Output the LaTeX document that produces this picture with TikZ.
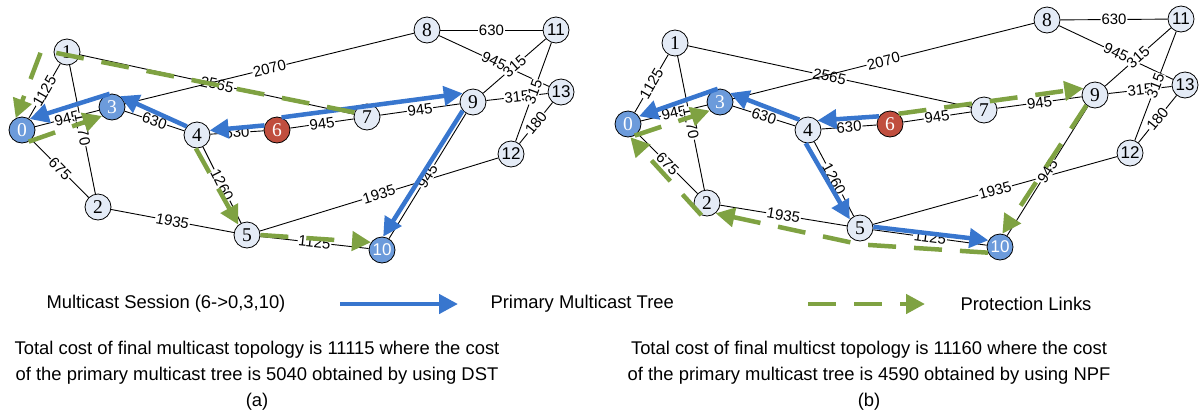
\documentclass[tikz,border=0pt]{standalone}
\usepackage{fontspec}
\setmainfont{Liberation Sans}
\newfontfamily\numserif{Liberation Serif}
\usetikzlibrary{arrows.meta,calc}

\definecolor{treeblue}{RGB}{56,118,206}
\definecolor{protgreen}{RGB}{127,162,66}
\definecolor{nodelight}{RGB}{228,235,246}
\definecolor{nodeblue}{RGB}{108,155,219}
\definecolor{nodered}{RGB}{192,78,62}

\pgfdeclarelayer{background}
\pgfsetlayers{background,main}

\begin{document}
\begin{tikzpicture}
[
	x=1pt, y=-1pt,
	nd/.style={circle,draw,line width=0.8pt,fill=nodelight,inner sep=0pt,minimum size=26pt,font=\fontsize{19.5}{19.5}\numserif},
	ndsans/.style={nd,font=\fontsize{17}{17}\selectfont},
	member/.style={fill=nodeblue,text=white},
	source/.style={fill=nodered,text=white},
	link/.style={line width=0.9pt},
	cost/.style={sloped,fill=white,inner sep=0.8pt,font=\fontsize{15}{15}\selectfont},
	tree/.style={treeblue,line width=4.5pt,-{Triangle[length=19pt,width=19pt]}},
	prot/.style={protgreen,line width=4.5pt,dash pattern=on 28pt off 18pt,-{Triangle[length=19pt,width=19pt]}},
	legtext/.style={font=\fontsize{18.4}{22}\selectfont},
	caption/.style={align=center,font=\fontsize{18.4}{26}\selectfont}
]
	\useasboundingbox (0,0) rectangle (1204,416);

	% network (a)
	\node[nd,member] (L0) at (22,130) {0};
	\node[nd] (L1) at (67,52) {1};
	\node[nd] (L2) at (98,207) {2};
	\node[nd,member] (L3) at (112,107) {3};
	\node[nd] (L4) at (197,135) {4};
	\node[nd] (L5) at (247,235) {5};
	\node[nd,source] (L6) at (277,130) {6};
	\node[nd] (L7) at (367,117) {7};
	\node[nd] (L8) at (427,30) {8};
	\node[nd] (L9) at (473,102) {9};
	\node[ndsans,member] (L10) at (382,250) {10};
	\node[ndsans] (L11) at (556,30) {11};
	\node[ndsans] (L12) at (511,154) {12};
	\node[ndsans] (L13) at (561,92) {13};

	% network (b)
	\node[nd,member] (R0) at (628,124) {0};
	\node[nd] (R1) at (675,43) {1};
	\node[nd] (R2) at (707,203) {2};
	\node[nd,member] (R3) at (720,102) {3};
	\node[nd] (R4) at (808,130) {4};
	\node[nd] (R5) at (860,228) {5};
	\node[nd,source] (R6) at (890,124) {6};
	\node[nd] (R7) at (984,110) {7};
	\node[nd] (R8) at (1047,20) {8};
	\node[nd] (R9) at (1095,95) {9};
	\node[ndsans,member] (R10) at (1000,247) {10};
	\node[ndsans] (R11) at (1181,19) {11};
	\node[ndsans] (R12) at (1130,153) {12};
	\node[ndsans] (R13) at (1185,85) {13};

	% links with costs
	\begin{pgfonlayer}{background}
	\foreach \g in {L,R} {
		\foreach \a/\b/\c in {0/1/1125, 0/2/675, 0/3/945, 1/2/1170, 1/7/2565,
			3/8/2070, 3/4/630, 4/6/630, 4/5/1260, 6/7/945, 7/9/945, 2/5/1935,
			5/10/1125, 5/12/1935, 9/10/945, 8/11/630, 8/13/945, 9/11/315,
			9/13/315, 11/12/315, 12/13/180} {
			\draw[link] (\g\a) -- node[cost] {\c} (\g\b);
		}
	}
	\end{pgfonlayer}

	% (a) DST tree and protection
	\draw[tree] (L6.160) -- (L4.20);
	\draw[tree] (L4.140) -- (L3.54);
	\draw[tree] (L3.100) -- (L0.55);
	\draw[tree] (L6.70) -- (L9.140);
	\draw[tree] (L9.220) -- (L10.85);
	\draw[prot] (L7.160) -- ($(L1.west)+(-12,-2)$) -- (L0.118);
	\draw[prot] (L0.300) -- (L3.222);
	\draw[prot] (L4.265) -- (L5.130);
	\draw[prot] (L5.0) -- (L10.145);

	% (b) NPF tree and protection
	\draw[tree] (R6.145) -- (R4.45);
	\draw[tree] (R4.130) -- (R3.42);
	\draw[tree] (R3.100) -- (R0.35);
	\draw[tree] (R4.260) -- (R5.140);
	\draw[tree] (R5.5) -- (R10.150);
	\draw[prot] (R6.50) -- (R9.150);
	\draw[prot] (R9.230) -- (R10.80);
	\draw[prot] (R10.205) -- ($(R5.south)+(0,3)$) -- (R2.310);
	\draw[prot] (R2.245) -- (R0.280);
	\draw[prot] (R0.300) -- (R3.220);

	% legend
	\node[legtext] (sess) at (166,304) {Multicast Session (6->0,3,10)};
	\coordinate (treeA) at (340,304);
	\coordinate (treeB) at (458,304);
	\draw[tree] (treeA) -- (treeB);
	\node[legtext,anchor=west] (treelbl) at (487,304) {Primary Multicast Tree};
	\coordinate (protA) at (808,304);
	\coordinate (protB) at (925,304);
	\draw[prot] (protA) -- (protB);
	\node[legtext,anchor=west] (protlbl) at (957,304) {Protection Links};

	% captions
	\node[caption] (capa) at (257,376) {Total cost of final multicast topology is 11115 where the cost\\of the primary multicast tree is 5040 obtained by using DST\\(a)};
	\node[caption] (capb) at (869,376) {Total cost of final multicst topology is 11160 where the cost\\of the primary multicast tree is 4590 obtained by using NPF\\(b)};

\end{tikzpicture}
\end{document}
